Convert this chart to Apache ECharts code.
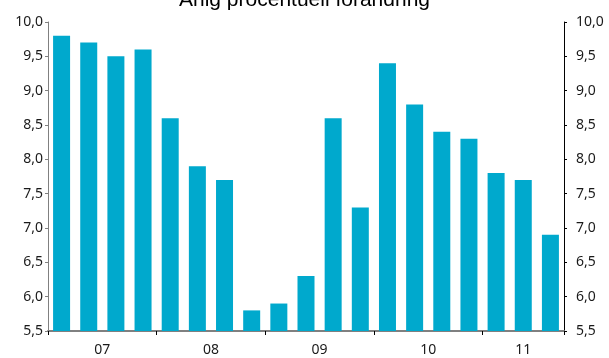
<!DOCTYPE html>
<html>
<head>
<meta charset="utf-8">
<style>
  html, body { margin: 0; padding: 0; background: #ffffff; }
  #chart { width: 609px; height: 358px; }
</style>
<script src="https://cdn.jsdelivr.net/npm/echarts@6/dist/echarts.min.js"></script>
</head>
<body>
<div id="chart"></div>
<script>
// Quarterly observations, 2007 Q1 – 2011 Q3
const quarters = [
  '2007 K1', '2007 K2', '2007 K3', '2007 K4',
  '2008 K1', '2008 K2', '2008 K3', '2008 K4',
  '2009 K1', '2009 K2', '2009 K3', '2009 K4',
  '2010 K1', '2010 K2', '2010 K3', '2010 K4',
  '2011 K1', '2011 K2', '2011 K3'
];
// Annual percentage change
const values = [
  9.8, 9.7, 9.5, 9.6,
  8.6, 7.9, 7.7, 5.8,
  5.9, 6.3, 8.6, 7.3,
  9.4, 8.8, 8.4, 8.3,
  7.8, 7.7, 6.9
];
// Value axis ticks
const yMin = 5.5;
const yMax = 10.0;
const yStep = 0.5;

const titleText = 'Årlig procentuell förändring';

// Year labels sit at the middle of each year's run of quarters
const years = [];
quarters.forEach((q, i) => {
  const y = q.slice(2, 4);
  const last = years[years.length - 1];
  if (last && last.label === y) { last.end = i + 1; }
  else { years.push({ label: y, start: i, end: i + 1 }); }
});
const yearMids = years.map(y => (y.start + y.end) / 2);
const yearText = {};
years.forEach((y, i) => { yearText[yearMids[i]] = y.label; });

const fontFam = '"Noto Sans", "DejaVu Sans", sans-serif';
const fmt = v => v.toFixed(1).replace('.', ',');

const chart = echarts.init(document.getElementById('chart'), null, { renderer: 'canvas' });
chart.setOption({
  animation: false,
  backgroundColor: '#ffffff',
  title: {
    text: titleText,
    left: 'center',
    top: -15,
    textStyle: { fontFamily: '"Liberation Sans", Arial, sans-serif', fontSize: 21, fontWeight: 'normal', color: '#000' }
  },
  grid: { left: 48, right: 45, top: 22, bottom: 27, containLabel: false },
  xAxis: [
    {
      type: 'category',
      data: quarters,
      boundaryGap: true,
      axisLine: { show: true, lineStyle: { color: '#808080', width: 2 } },
      axisTick: { show: true, interval: (i) => i % 4 === 0, length: 4, lineStyle: { color: '#000', width: 1 } },
      axisLabel: { show: false },
      splitLine: { show: false }
    },
    {
      type: 'value',
      min: 0,
      max: quarters.length,
      position: 'bottom',
      axisLine: { show: false },
      axisTick: { show: false },
      splitLine: { show: false },
      axisLabel: {
        show: true,
        customValues: yearMids,
        formatter: v => yearText[v] || '',
        margin: 12,
        fontFamily: fontFam,
        fontSize: 14,
        color: '#1a1a1a'
      }
    }
  ],
  yAxis: [
    {
      type: 'value',
      min: yMin, max: yMax, interval: yStep,
      position: 'left',
      axisLine: { show: true, lineStyle: { color: '#808080', width: 1 } },
      axisTick: { show: true, length: 3, lineStyle: { color: '#808080' } },
      splitLine: { show: false },
      axisLabel: { formatter: fmt, fontFamily: fontFam, fontSize: 14, color: '#1a1a1a', margin: 5 }
    },
    {
      type: 'value',
      min: yMin, max: yMax, interval: yStep,
      position: 'right',
      axisLine: { show: true, lineStyle: { color: '#000', width: 1 } },
      axisTick: { show: true, length: 3, lineStyle: { color: '#000' } },
      splitLine: { show: false },
      axisLabel: { formatter: fmt, fontFamily: fontFam, fontSize: 14, color: '#1a1a1a', margin: 12 }
    }
  ],
  series: [
    {
      type: 'bar',
      xAxisIndex: 0,
      yAxisIndex: 0,
      data: values,
      barWidth: 17,
      itemStyle: { color: '#00a9cd' }
    }
  ]
});
</script>
</body>
</html>
